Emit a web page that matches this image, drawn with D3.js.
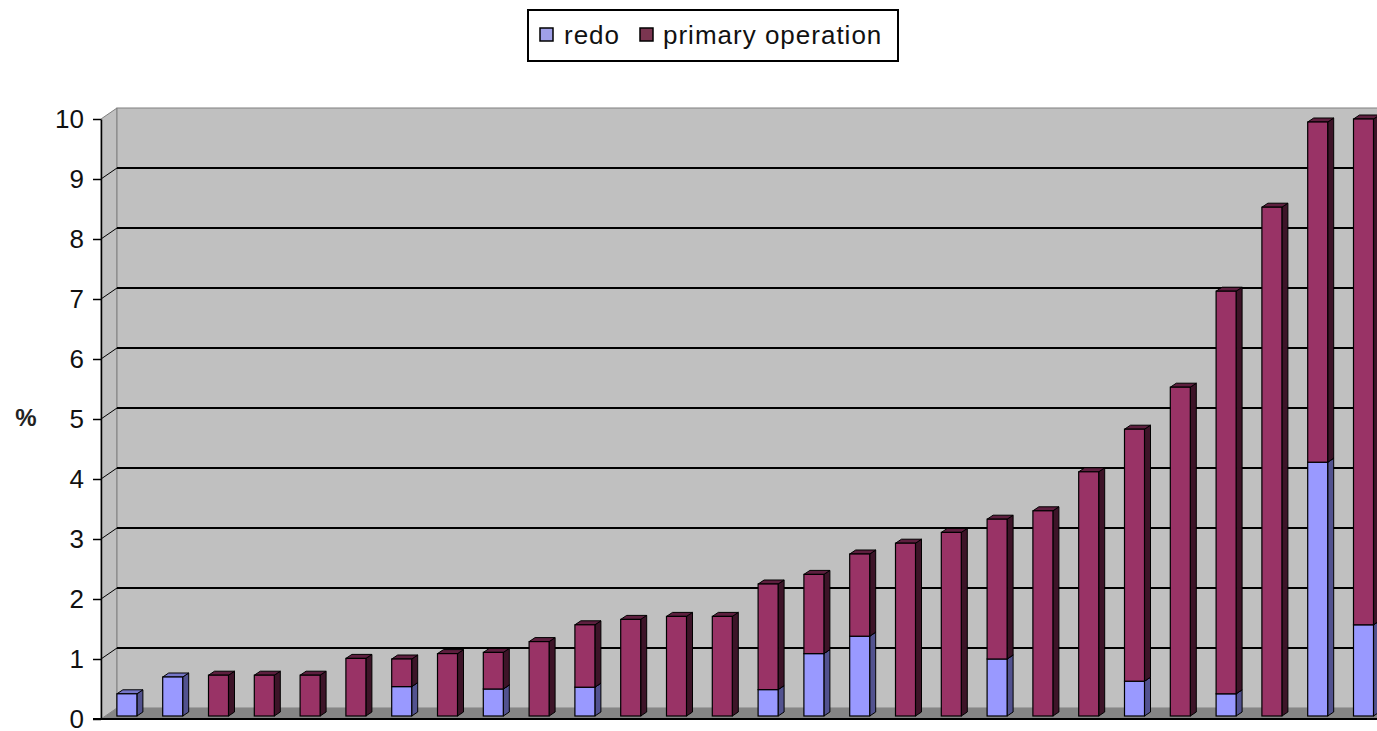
<!DOCTYPE html>
<html>
<head>
<meta charset="utf-8">
<script src="https://cdn.jsdelivr.net/npm/d3@7"></script>
<style>
  body { margin: 0; background: #fff; }
  svg { display: block; font-family: "Liberation Sans", Arial, sans-serif; }
</style>
</head>
<body>
<svg class="chart" width="1377" height="731"></svg>
<script>
// bar index (no x labels on the chart)
const categories = d3.range(1, 29);

// stacked values, %
const redo = [0.37, 0.65, 0, 0, 0, 0, 0.49, 0, 0.45, 0, 0.48, 0, 0, 0,
  0.44, 1.04, 1.33, 0, 0, 0.95, 0, 0, 0.58, 0, 0.37, 0, 4.23, 1.52];
const primary = [0, 0, 0.68, 0.68, 0.68, 0.96, 0.46, 1.04, 0.61, 1.24, 1.04, 1.61, 1.66, 1.66,
  1.76, 1.32, 1.37, 2.88, 3.06, 2.33, 3.42, 4.07, 4.20, 5.48, 6.71, 8.48, 5.67, 8.43];

const seriesNames = ["redo", "primary operation"];
const yTicks = [0, 1, 2, 3, 4, 5, 6, 7, 8, 9, 10];

const colors = {
  redo: { front: "#9999ff", side: "#52528f", top: "#7676c8", key: "#a0a0e8" },
  "primary operation": { front: "#993366", side: "#3d1428", top: "#5e1f3f", key: "#7a3550" }
};

const svg = d3.select(".chart");
const width = 1377;

// front plane (axis) and 3D offsets
const axisX = 101;
const wallDx = 16, wallDy = -11;   // back wall offset
const barDx = 6, barDy = -4;       // bar depth

const yFront = d3.scaleLinear().domain([0, 10]).range([719, 119]);
const yBar = d3.scaleLinear().domain([0, 10]).range([716, 116]);

const x = d3.scaleBand()
  .domain(categories)
  .range([104, 104 + 28 * 45.8]);
const barW = 20;

// walls
const wallLeft = axisX + wallDx;
const wallTop = yFront(10) + wallDy;
const wallBottom = yFront(0) + wallDy;

svg.append("polygon")
  .attr("points", [[axisX, yFront(10)], [wallLeft, wallTop], [wallLeft, wallBottom], [axisX, yFront(0)]].join(" "))
  .attr("fill", "#c0c0c0")
  .attr("stroke", "#808080");

svg.append("rect")
  .attr("x", wallLeft)
  .attr("y", wallTop)
  .attr("width", width + 20 - wallLeft)
  .attr("height", wallBottom - wallTop)
  .attr("fill", "#c0c0c0")
  .attr("stroke", "#808080");

// floor
svg.append("polygon")
  .attr("points", [[axisX, yFront(0)], [wallLeft, wallBottom], [width + 20, wallBottom], [width + 20, yFront(0)]].join(" "))
  .attr("fill", "#858585");

// gridlines on back wall + diagonals on side wall
const grid = svg.append("g");
yTicks.filter(v => v > 0 && v < 10).forEach(v => {
  grid.append("line")
    .attr("x1", wallLeft).attr("x2", width + 20)
    .attr("y1", yFront(v) + wallDy).attr("y2", yFront(v) + wallDy)
    .attr("stroke", "#000").attr("stroke-width", 2);
  grid.append("line")
    .attr("x1", axisX).attr("x2", wallLeft)
    .attr("y1", yFront(v)).attr("y2", yFront(v) + wallDy)
    .attr("stroke", "#000").attr("stroke-width", 1);
});

// y axis
const yAxis = d3.axisLeft(yFront)
  .tickValues(yTicks)
  .tickSize(8)
  .tickPadding(9)
  .tickSizeOuter(0);

const gy = svg.append("g")
  .attr("transform", `translate(${axisX},0)`)
  .call(yAxis);
gy.select(".domain").attr("stroke", "#000").attr("stroke-width", 1.5);
gy.selectAll(".tick line").attr("stroke", "#000").attr("stroke-width", 1.5);
gy.selectAll(".tick text")
  .attr("fill", "#111")
  .style("font-size", "26px")
  .style("font-family", "Liberation Sans, Arial, sans-serif");

// floor front edge
svg.append("line")
  .attr("x1", axisX - 8).attr("x2", width)
  .attr("y1", yFront(0)).attr("y2", yFront(0))
  .attr("stroke", "#000").attr("stroke-width", 2);

// y title
svg.append("text")
  .attr("x", 26)
  .attr("y", 418)
  .attr("dy", "0.35em")
  .attr("text-anchor", "middle")
  .style("font-size", "24px")
  .style("font-weight", "bold")
  .attr("fill", "#222")
  .text("%");

// stacked 3D bars
const table = categories.map((c, i) => ({ cat: c, redo: redo[i], "primary operation": primary[i] }));
const layers = d3.stack().keys(seriesNames)(table);

const barsG = svg.append("g");
layers.forEach(layer => {
  const col = colors[layer.key];
  layer.forEach(d => {
    if (d[1] - d[0] <= 0) return;
    const bx = x(d.data.cat) + (x.bandwidth() - barW) / 2;
    const y0 = yBar(d[0]);
    const y1 = yBar(d[1]);
    const g = barsG.append("g");
    // side face
    g.append("polygon")
      .attr("points", [[bx + barW, y1], [bx + barW + barDx, y1 + barDy], [bx + barW + barDx, y0 + barDy], [bx + barW, y0]].join(" "))
      .attr("fill", col.side)
      .attr("stroke", "#000").attr("stroke-width", 1);
    // top face
    g.append("polygon")
      .attr("points", [[bx, y1], [bx + barDx, y1 + barDy], [bx + barW + barDx, y1 + barDy], [bx + barW, y1]].join(" "))
      .attr("fill", col.top)
      .attr("stroke", "#000").attr("stroke-width", 1);
    // front face
    g.append("rect")
      .attr("x", bx)
      .attr("y", y1)
      .attr("width", barW)
      .attr("height", y0 - y1)
      .attr("fill", col.front)
      .attr("stroke", "#000").attr("stroke-width", 1.2);
  });
});

// legend
const legend = svg.append("g");
legend.append("rect")
  .attr("x", 528).attr("y", 10)
  .attr("width", 370).attr("height", 51)
  .attr("fill", "#fff")
  .attr("stroke", "#000").attr("stroke-width", 2);

const legendItems = [
  { name: "redo", sx: 540, tx: 564 },
  { name: "primary operation", sx: 640, tx: 663 }
];
legendItems.forEach(it => {
  legend.append("rect")
    .attr("x", it.sx).attr("y", 28)
    .attr("width", 13).attr("height", 13)
    .attr("fill", colors[it.name].key)
    .attr("stroke", "#000").attr("stroke-width", 1.5);
  legend.append("text")
    .attr("x", it.tx).attr("y", 44)
    .style("font-size", "26px")
    .style("letter-spacing", "1px")
    .attr("fill", "#111")
    .text(it.name);
});
</script>
</body>
</html>
